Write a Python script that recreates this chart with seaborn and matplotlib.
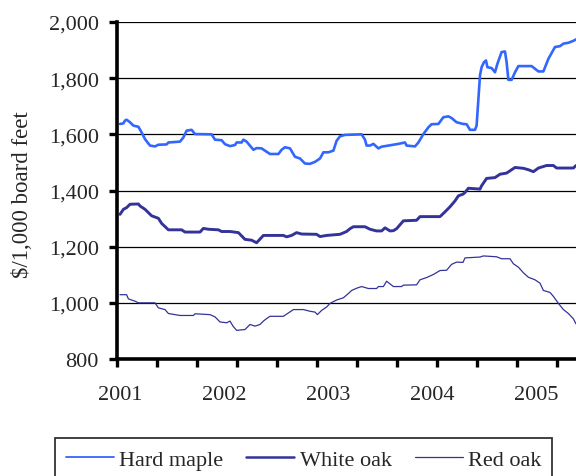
import matplotlib
matplotlib.use("Agg")
import matplotlib.pyplot as plt
from matplotlib.ticker import FuncFormatter, FixedLocator
import seaborn as sns
import pandas as pd

# Weekly hardwood lumber prices, $/1,000 board feet (week 0 = first week of 2001)
maple_weeks = [1.5, 3.2, 4, 4.8, 6.5, 8.2, 10.7, 12.3, 14, 16.5, 19, 20.7, 24.8, 25.7,
               31.5, 33.2, 34.8, 37.3, 39, 47.3, 49, 52.3, 54, 56.5, 59, 59.8, 62.3,
               63.2, 64.8, 68.2, 69.8, 72.3, 74.8, 76.5, 80.7, 82.3, 84, 86.5, 89, 91.5,
               94, 96.5, 99, 101.5, 103.2, 105.7, 108.2, 109.8, 111.5, 114, 122.3, 124,
               124.8, 126.5, 128.2, 130.7, 132.3, 135.7, 140.7, 144, 144.8, 149, 150.7,
               153.2, 155.7, 157.3, 160.7, 163.2, 165.7, 167.3, 169.8, 173, 174.8, 176.5,
               179, 179.8, 180.7, 181.5, 182.3, 183.5, 184.5, 185.2, 187.3, 189, 190.2,
               192.3, 194, 194.8, 195.7, 197.3, 199, 200.7, 207.3, 210.7, 213.2, 215.7,
               219, 221.5, 223.2, 225.7, 228.2, 229.5]
maple_price = [1637, 1639, 1649, 1652, 1643, 1631, 1627, 1607, 1583, 1560, 1557, 1563, 1564,
               1571, 1574, 1589, 1613, 1616, 1601, 1600, 1581, 1579, 1565, 1558, 1562, 1571,
               1571, 1581, 1574, 1545, 1551, 1550, 1538, 1530, 1530, 1545, 1554, 1550, 1520,
               1514, 1496, 1495, 1502, 1514, 1536, 1536, 1542, 1577, 1593, 1598, 1600, 1581,
               1560, 1560, 1566, 1550, 1556, 1560, 1566, 1571, 1560, 1557, 1571, 1601, 1625,
               1636, 1637, 1661, 1664, 1658, 1643, 1637, 1636, 1616, 1616, 1631, 1726, 1810,
               1839, 1857, 1863, 1839, 1836, 1821, 1851, 1893, 1895, 1857, 1794, 1794, 1821,
               1843, 1843, 1824, 1824, 1869, 1911, 1914, 1923, 1926, 1933, 1938]

white_weeks = [1.5, 3.2, 4.8, 6.5, 10.7, 11.5, 14, 17.3, 20.7, 22.3, 25.7, 32.3, 34, 41.5,
               43.2, 45.7, 50.7, 52.3, 56.5, 60.7, 64, 67.3, 69.8, 73.2, 83.2, 84.8, 87.3,
               89.8, 92.3, 99.8, 101.5, 104.8, 111.5, 114.8, 116.5, 118.2, 124, 126.5,
               129.8, 132.3, 134, 136.5, 138.2, 139.8, 143.2, 149.8, 151.5, 161.5, 164,
               166.5, 169, 170.7, 173, 174, 175.7, 181.5, 182.3, 184.8, 189, 191.5, 194.8,
               199, 203.2, 205.7, 208.2, 210.7, 214.8, 218.2, 219.8, 228.2, 229.5]
white_price = [1315, 1333, 1339, 1351, 1352, 1345, 1333, 1310, 1301, 1283, 1260, 1260, 1252,
               1252, 1265, 1262, 1260, 1254, 1254, 1250, 1226, 1223, 1214, 1240, 1240, 1235,
               1240, 1250, 1245, 1244, 1236, 1240, 1244, 1254, 1264, 1271, 1271, 1262, 1256,
               1256, 1267, 1256, 1257, 1264, 1292, 1294, 1307, 1307, 1324, 1342, 1363, 1381,
               1387, 1393, 1408, 1405, 1417, 1443, 1446, 1458, 1462, 1482, 1479, 1474, 1467,
               1480, 1489, 1489, 1480, 1480, 1489]

red_weeks = [1.5, 4.8, 5.7, 9, 10.7, 19, 20.7, 24, 25.7, 31.5, 38.2, 39, 46.5, 49, 51.5,
             54.8, 56.5, 58, 59.8, 64, 66.5, 69, 71.5, 73.2, 74.8, 76.5, 83.2, 85.7, 88.2,
             93.2, 96.5, 99, 100.2, 102.3, 104.8, 106.5, 109.8, 113.2, 115.5, 117.3, 119.8,
             122.3, 125.7, 129.8, 130.7, 133.2, 134.8, 138.2, 142.3, 143.2, 149.8, 151.5,
             154.8, 158.2, 161.5, 164.8, 167.3, 169.8, 173, 174, 181.5, 183.2, 189.8, 192.3,
             196.5, 198.2, 200.7, 203.2, 205.7, 209, 211.5, 213.2, 216.5, 218.2, 220.7,
             223.2, 225.7, 228.2, 229.5]
red_price = [1029, 1029, 1014, 1006, 1000, 1000, 982, 976, 962, 955, 955, 961, 958, 950, 932,
             929, 935, 917, 902, 905, 923, 917, 923, 935, 944, 952, 952, 964, 976, 976, 970,
             967, 958, 973, 985, 998, 1010, 1018, 1032, 1044, 1052, 1058, 1051, 1051, 1058,
             1058, 1077, 1058, 1058, 1063, 1064, 1082, 1090, 1101, 1115, 1116, 1137, 1145,
             1144, 1160, 1163, 1167, 1164, 1157, 1157, 1139, 1127, 1107, 1091, 1082, 1070,
             1044, 1037, 1023, 998, 976, 962, 943, 925]

year_labels = ["2001", "2002", "2003", "2004", "2005"]
year_weeks = [1.5, 53.5, 105.5, 157.5, 209.5]
minor_week_ticks = [0, 20, 40, 60, 80, 100, 120, 140, 160, 180, 200, 220]
price_ticks = [800, 1000, 1200, 1400, 1600, 1800, 2000]

series = [
    ("Hard maple", maple_weeks, maple_price, "#3366ff", 1.9),
    ("White oak", white_weeks, white_price, "#333399", 2.1),
    ("Red oak", red_weeks, red_price, "#333399", 0.9),
]

sns.set_style("white")
plt.rcParams["font.family"] = ["Liberation Serif", "DejaVu Serif"]

fig = plt.figure(figsize=(5.76, 4.77), dpi=100)
ax = fig.add_axes([117 / 576, 1 - 360 / 477, 459 / 576, 337 / 477])

for name, wk, val, color, lw in series:
    df = pd.DataFrame({"week": wk, "price": val})
    sns.lineplot(data=df, x="week", y="price", ax=ax, color=color, linewidth=lw,
                 label=name, estimator=None)

ax.set_xlim(0, 229.5)
ax.set_ylim(800, 2000)

# horizontal gridlines
ax.yaxis.set_major_locator(FixedLocator(price_ticks))
ax.yaxis.set_major_formatter(FuncFormatter(lambda v, p: f"{int(v):,}"))
ax.grid(axis="y", color="black", linewidth=0.9)
ax.set_axisbelow(True)

# short x ticks without labels, year labels on zero-length minor ticks
ax.xaxis.set_major_locator(FixedLocator(minor_week_ticks))
ax.xaxis.set_minor_locator(FixedLocator(year_weeks))
ax.set_xticklabels([""] * len(minor_week_ticks))
ax.set_xticklabels(year_labels, minor=True)
ax.tick_params(axis="x", which="major", direction="out", length=6, width=2.4,
               color="black", bottom=True)
ax.tick_params(axis="x", which="minor", length=0, pad=19, labelsize=16)
ax.tick_params(axis="y", direction="out", length=6, width=2.4, color="black",
               left=True, pad=7, labelsize=16)

for side in ("top", "right"):
    ax.spines[side].set_visible(False)
for side in ("left", "bottom"):
    ax.spines[side].set_linewidth(2.6)
    ax.spines[side].set_color("black")

ax.set_xlabel("")
ax.set_ylabel("$/1,000 board feet", fontsize=16.5)
ax.yaxis.set_label_coords(-0.183, 0.49)

leg = ax.legend(loc="upper left", bbox_to_anchor=(55 / 576, 1 - 439 / 477),
                bbox_transform=fig.transFigure, ncol=3, frameon=True, fancybox=False,
                fontsize=16, handlelength=2.16, handletextpad=0.23, columnspacing=1.04,
                borderpad=0.5, borderaxespad=0)
leg.get_frame().set_edgecolor("black")
leg.get_frame().set_linewidth(1.3)
for line in leg.get_lines():
    line.set_linewidth(1.3)
leg.get_lines()[1].set_linewidth(1.8)
leg.get_lines()[2].set_linewidth(0.9)

fig.savefig("out.png", dpi=100)
